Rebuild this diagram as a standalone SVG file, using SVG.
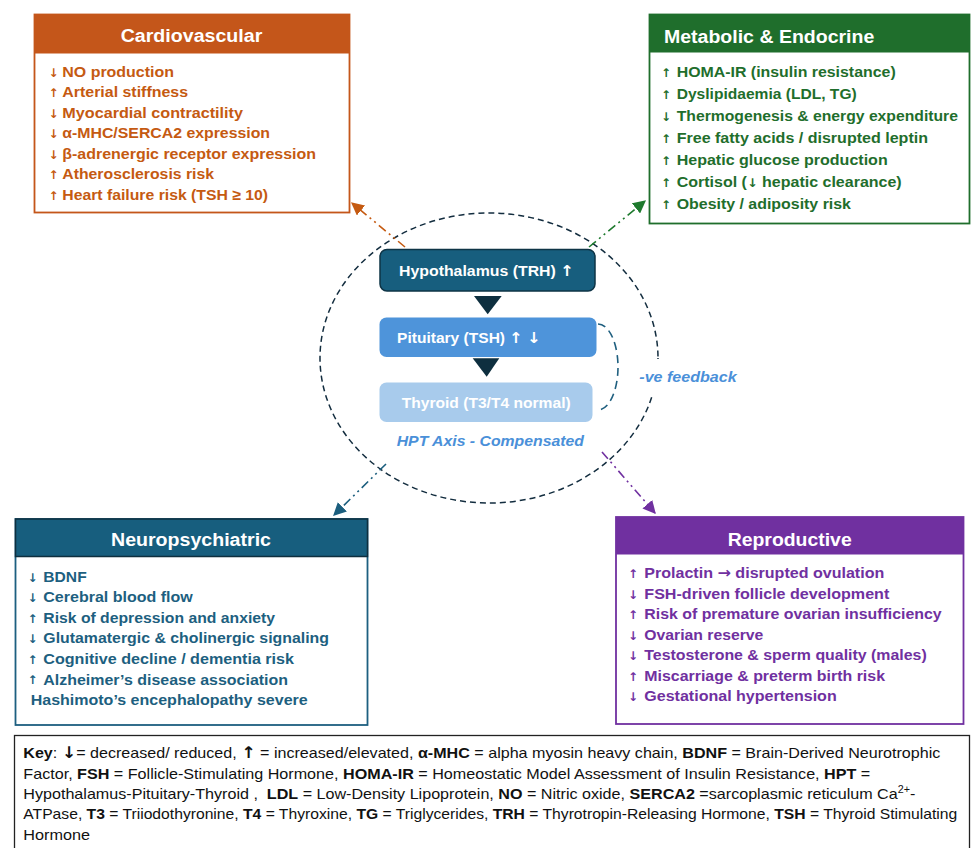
<svg xmlns="http://www.w3.org/2000/svg" width="971" height="848" viewBox="0 0 971 848">
<style>
text{font-family:"Liberation Sans",Arial,sans-serif;}
.hd{font-size:18px;font-weight:bold;fill:#fff;}
.it{font-size:15px;font-weight:bold;}
.ar{font-size:12px;font-weight:bold;font-family:"DejaVu Sans",sans-serif;text-anchor:middle;}
.dv{font-family:"DejaVu Sans",sans-serif;}
.cv{fill:#C55A11;}
.me{fill:#1F6E2C;}
.np{fill:#1D5F80;}
.rp{fill:#7030A0;}
.hpt{font-size:14.5px;font-weight:bold;fill:#fff;}
.conn{fill:none;stroke-width:1.6;stroke-dasharray:9 4 2 4 2 4;}
.key{font-size:15px;fill:#111;white-space:pre;}
.key tspan.b{font-weight:bold;}
</style>
<defs>
<marker id="mO" viewBox="0 0 10 10" refX="9" refY="5" markerWidth="13" markerHeight="13" markerUnits="userSpaceOnUse" orient="auto"><path d="M0,0 L10,5 L0,10 z" fill="#C55A11"/></marker>
<marker id="mG" viewBox="0 0 10 10" refX="9" refY="5" markerWidth="13" markerHeight="13" markerUnits="userSpaceOnUse" orient="auto"><path d="M0,0 L10,5 L0,10 z" fill="#1E7A2E"/></marker>
<marker id="mT" viewBox="0 0 10 10" refX="9" refY="5" markerWidth="13" markerHeight="13" markerUnits="userSpaceOnUse" orient="auto"><path d="M0,0 L10,5 L0,10 z" fill="#1B5E7E"/></marker>
<marker id="mP" viewBox="0 0 10 10" refX="9" refY="5" markerWidth="13" markerHeight="13" markerUnits="userSpaceOnUse" orient="auto"><path d="M0,0 L10,5 L0,10 z" fill="#7030A0"/></marker>
</defs>
<rect width="971" height="848" fill="#fff"/>

<!-- HPT axis -->
<g id="hpt-axis">
<ellipse cx="489" cy="358" rx="169" ry="145" fill="none" stroke="#132D3F" stroke-width="1.5" stroke-dasharray="6 4"/>
<rect x="636" y="359" width="106" height="36" fill="#fff"/>
</g>

<g id="hypothalamus">
<rect x="380" y="249.5" width="215" height="41.5" rx="7" fill="#175E7E" stroke="#0E3446" stroke-width="1.5"/>
<text class="hpt" x="399" y="275.5" textLength="175" lengthAdjust="spacingAndGlyphs">Hypothalamus (TRH) <tspan class="dv" font-size="15">↑</tspan></text>
</g>
<g id="pituitary">
<rect x="379.5" y="317.5" width="217" height="39.5" rx="7" fill="#4E94DA"/>
<text class="hpt" x="397" y="342.5" textLength="143.7" lengthAdjust="spacingAndGlyphs">Pituitary (TSH) <tspan class="dv" font-size="15">↑</tspan> <tspan class="dv" font-size="15">↓</tspan></text>
</g>
<g id="thyroid">
<rect x="379.5" y="382.5" width="213" height="39.5" rx="7" fill="#A8CBEC"/>
<text class="hpt" x="401.7" y="407.5" textLength="169" lengthAdjust="spacingAndGlyphs">Thyroid (T3/T4 normal)</text>
</g>
<g id="hpt-label">
<text x="396.7" y="446" font-size="15" font-weight="bold" font-style="italic" fill="#4A90D9" textLength="187.3" lengthAdjust="spacingAndGlyphs">HPT Axis - Compensated</text>
</g>
<g id="feedback-label">
<text x="639.3" y="382" font-size="15" font-weight="bold" font-style="italic" fill="#4A90D9" textLength="97.4" lengthAdjust="spacingAndGlyphs">-ve feedback</text>
</g>

<!-- Connectors -->
<g id="connectors">
<path d="M474,296 L501.7,296 L487.7,314.3 z" fill="#0E2F3F"/>
<path d="M472.7,358.3 L499.3,358.3 L486.7,376.7 z" fill="#0E2F3F"/>
<path d="M598,324 A20,43 0 0 1 598,410" fill="none" stroke="#1F5F7F" stroke-width="1.6" stroke-dasharray="8 5"/>
<path class="conn" d="M405,247 L352,203" stroke="#C55A11" marker-end="url(#mO)"/>
<path class="conn" d="M589,247 L645,201" stroke="#1E7A2E" marker-end="url(#mG)"/>
<path class="conn" d="M386,464 L334,515" stroke="#1B5E7E" marker-end="url(#mT)"/>
<path class="conn" d="M602,452 L655,513" stroke="#7030A0" marker-end="url(#mP)"/>
</g>

<!-- Cardiovascular -->
<g id="cardiovascular">
<rect x="34.5" y="14.5" width="315" height="198" fill="#fff" stroke="#C4561A" stroke-width="1.8"/>
<rect x="34.5" y="14.5" width="315" height="39" fill="#C4561A"/>
<text class="hd" x="120.7" y="41.5" textLength="141.6" lengthAdjust="spacingAndGlyphs">Cardiovascular</text>
<g class="cv">
<text class="ar" x="53.5" y="76.5">↓</text><text class="it" x="62.3" y="77" textLength="111.7" lengthAdjust="spacingAndGlyphs">NO production</text>
<text class="ar" x="53.5" y="96.5">↑</text><text class="it" x="62.3" y="97" textLength="125.7" lengthAdjust="spacingAndGlyphs">Arterial stiffness</text>
<text class="ar" x="53.5" y="117.5">↓</text><text class="it" x="62.3" y="118" textLength="180.7" lengthAdjust="spacingAndGlyphs">Myocardial contractility</text>
<text class="ar" x="53.5" y="137.5">↓</text><text class="it" x="62.3" y="138" textLength="207.7" lengthAdjust="spacingAndGlyphs">α-MHC/SERCA2 expression</text>
<text class="ar" x="53.5" y="158.5">↓</text><text class="it" x="62.3" y="159" textLength="253.7" lengthAdjust="spacingAndGlyphs">β-adrenergic receptor expression</text>
<text class="ar" x="53.5" y="178.5">↑</text><text class="it" x="62.3" y="179" textLength="151.7" lengthAdjust="spacingAndGlyphs">Atherosclerosis risk</text>
<text class="ar" x="53.5" y="199.5">↑</text><text class="it" x="62.3" y="200" textLength="205.7" lengthAdjust="spacingAndGlyphs">Heart failure risk (TSH ≥ 10)</text>
</g>
</g>

<!-- Metabolic & Endocrine -->
<g id="metabolic">
<rect x="649.5" y="14.5" width="320" height="209" fill="#fff" stroke="#1F6E2C" stroke-width="1.8"/>
<rect x="649.5" y="14.5" width="320" height="38" fill="#1F6E2C"/>
<text class="hd" x="664" y="42.5" textLength="210.3" lengthAdjust="spacingAndGlyphs">Metabolic &amp; Endocrine</text>
<g class="me">
<text class="ar" x="666" y="76.5">↑</text><text class="it" x="676.7" y="77" textLength="219" lengthAdjust="spacingAndGlyphs">HOMA-IR (insulin resistance)</text>
<text class="ar" x="666" y="98.5">↑</text><text class="it" x="676.7" y="99" textLength="180" lengthAdjust="spacingAndGlyphs">Dyslipidaemia (LDL, TG)</text>
<text class="ar" x="666" y="120.5">↓</text><text class="it" x="676.7" y="121" textLength="281.3" lengthAdjust="spacingAndGlyphs">Thermogenesis &amp; energy expenditure</text>
<text class="ar" x="666" y="142.5">↑</text><text class="it" x="676.7" y="143" textLength="251.3" lengthAdjust="spacingAndGlyphs">Free fatty acids / disrupted leptin</text>
<text class="ar" x="666" y="164.5">↑</text><text class="it" x="676.7" y="165" textLength="211" lengthAdjust="spacingAndGlyphs">Hepatic glucose production</text>
<text class="ar" x="666" y="186.5">↑</text><text class="it" x="676.7" y="187" textLength="225" lengthAdjust="spacingAndGlyphs">Cortisol (<tspan class="dv" font-size="12">↓</tspan> hepatic clearance)</text>
<text class="ar" x="666" y="208.5">↑</text><text class="it" x="676.7" y="209" textLength="174.3" lengthAdjust="spacingAndGlyphs">Obesity / adiposity risk</text>
</g>
</g>

<!-- Neuropsychiatric -->
<g id="neuropsychiatric">
<rect x="15.5" y="519" width="352" height="206" fill="#fff" stroke="#1D5F80" stroke-width="1.8"/>
<rect x="15.5" y="519" width="352" height="37.5" fill="#175E7E" stroke="#0E2F3F" stroke-width="1.5"/>
<text class="hd" x="111" y="546" textLength="160" lengthAdjust="spacingAndGlyphs">Neuropsychiatric</text>
<g class="np">
<text class="ar" x="32.5" y="581.5">↓</text><text class="it" x="43.3" y="582" textLength="43.4" lengthAdjust="spacingAndGlyphs">BDNF</text>
<text class="ar" x="32.5" y="601.5">↓</text><text class="it" x="43.3" y="602" textLength="149.4" lengthAdjust="spacingAndGlyphs">Cerebral blood flow</text>
<text class="ar" x="32.5" y="622.5">↑</text><text class="it" x="43.3" y="623" textLength="231.7" lengthAdjust="spacingAndGlyphs">Risk of depression and anxiety</text>
<text class="ar" x="32.5" y="642.5">↓</text><text class="it" x="43.3" y="643" textLength="285.7" lengthAdjust="spacingAndGlyphs">Glutamatergic &amp; cholinergic signaling</text>
<text class="ar" x="32.5" y="663.5">↑</text><text class="it" x="43.3" y="664" textLength="250.7" lengthAdjust="spacingAndGlyphs">Cognitive decline / dementia risk</text>
<text class="ar" x="32.5" y="684">↑</text><text class="it" x="43.3" y="684.5" textLength="244.7" lengthAdjust="spacingAndGlyphs">Alzheimer’s disease association</text>
<text class="it" x="30.7" y="705" textLength="277" lengthAdjust="spacingAndGlyphs">Hashimoto’s encephalopathy severe</text>
</g>
</g>

<!-- Reproductive -->
<g id="reproductive">
<rect x="616" y="517" width="347.5" height="207" fill="#fff" stroke="#7030A0" stroke-width="1.8"/>
<rect x="616" y="517" width="347.5" height="37.5" fill="#7030A0"/>
<text class="hd" x="727.7" y="545.5" textLength="124" lengthAdjust="spacingAndGlyphs">Reproductive</text>
<g class="rp">
<text class="ar" x="633" y="577.5">↑</text><text class="it" x="644.3" y="578" textLength="240" lengthAdjust="spacingAndGlyphs">Prolactin <tspan class="dv">→</tspan> disrupted ovulation</text>
<text class="ar" x="633" y="598.5">↓</text><text class="it" x="644.3" y="599" textLength="245" lengthAdjust="spacingAndGlyphs">FSH-driven follicle development</text>
<text class="ar" x="633" y="618.5">↑</text><text class="it" x="644.3" y="619" textLength="297.4" lengthAdjust="spacingAndGlyphs">Risk of premature ovarian insufficiency</text>
<text class="ar" x="633" y="639.5">↓</text><text class="it" x="644.3" y="640" textLength="119" lengthAdjust="spacingAndGlyphs">Ovarian reserve</text>
<text class="ar" x="633" y="659.5">↓</text><text class="it" x="644.3" y="660" textLength="282.4" lengthAdjust="spacingAndGlyphs">Testosterone &amp; sperm quality (males)</text>
<text class="ar" x="633" y="680.5">↑</text><text class="it" x="644.3" y="681" textLength="240.7" lengthAdjust="spacingAndGlyphs">Miscarriage &amp; preterm birth risk</text>
<text class="ar" x="633" y="700.5">↓</text><text class="it" x="644.3" y="701" textLength="192.4" lengthAdjust="spacingAndGlyphs">Gestational hypertension</text>
</g>
</g>

<!-- Key -->
<g id="key">
<rect x="14.5" y="735.5" width="955" height="120" fill="#fff" stroke="#222" stroke-width="1.3"/>
<text class="key" x="23.3" y="758.3" textLength="917" lengthAdjust="spacingAndGlyphs"><tspan class="b">Key</tspan>: <tspan class="b dv" font-size="16">↓</tspan>= decreased/ reduced, <tspan class="b dv" font-size="16">↑</tspan> = increased/elevated, <tspan class="b">α-MHC</tspan> = alpha myosin heavy chain, <tspan class="b">BDNF</tspan> = Brain-Derived Neurotrophic</text>
<text class="key" x="23.3" y="778.6" textLength="847" lengthAdjust="spacingAndGlyphs">Factor, <tspan class="b">FSH</tspan> = Follicle-Stimulating Hormone, <tspan class="b">HOMA-IR</tspan> = Homeostatic Model Assessment of Insulin Resistance, <tspan class="b">HPT</tspan> =</text>
<text class="key" x="23.3" y="799" textLength="892" lengthAdjust="spacingAndGlyphs">Hypothalamus-Pituitary-Thyroid ,  <tspan class="b">LDL</tspan> = Low-Density Lipoprotein, <tspan class="b">NO</tspan> = Nitric oxide, <tspan class="b">SERCA2</tspan> =sarcoplasmic reticulum Ca<tspan font-size="10" dy="-6">2+</tspan><tspan dy="6">-</tspan></text>
<text class="key" x="23.3" y="819.4" textLength="934" lengthAdjust="spacingAndGlyphs">ATPase, <tspan class="b">T3</tspan> = Triiodothyronine, <tspan class="b">T4</tspan> = Thyroxine, <tspan class="b">TG</tspan> = Triglycerides, <tspan class="b">TRH</tspan> = Thyrotropin-Releasing Hormone, <tspan class="b">TSH</tspan> = Thyroid Stimulating</text>
<text class="key" x="23.3" y="839.8" textLength="66.7" lengthAdjust="spacingAndGlyphs">Hormone</text>
</g>
</svg>
